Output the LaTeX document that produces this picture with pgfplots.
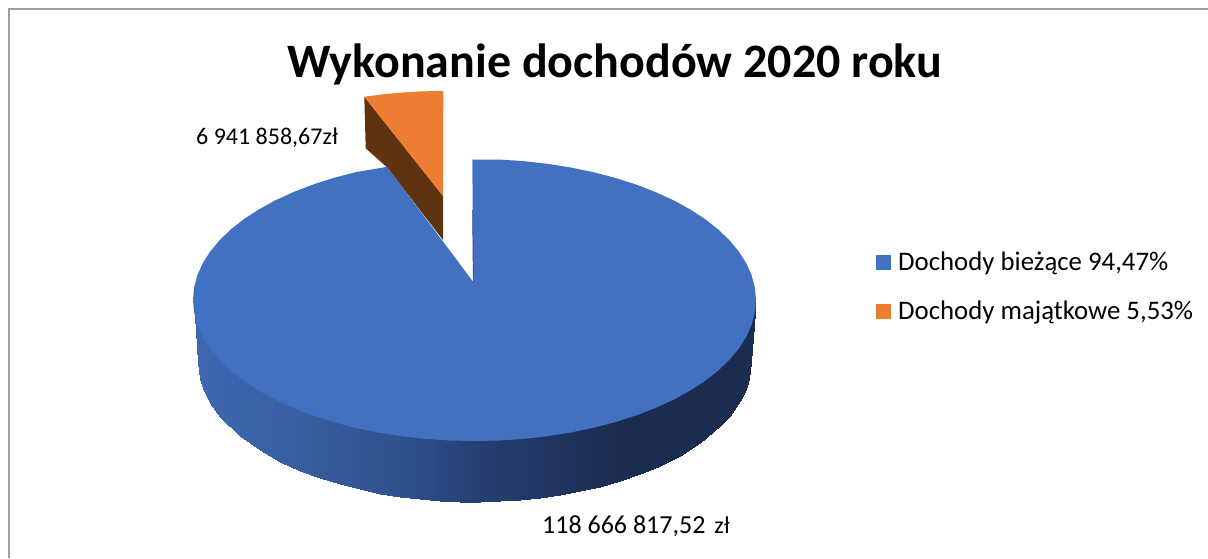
\documentclass[border=0pt]{standalone}
\usepackage{fontspec}
\setmainfont{Carlito}
\usepackage{pgfplots}
\pgfplotsset{compat=1.18}
\definecolor{pieblue}{HTML}{4371C1}
\definecolor{pieorange}{HTML}{ED7D31}
\definecolor{piebrown}{HTML}{5F3210}
\definecolor{framegray}{HTML}{A0A0A0}
\begin{document}
\begin{tikzpicture}
\useasboundingbox (0,0) rectangle (1208pt,558pt);
% axis runs in reference pixels, y downwards
\begin{axis}[scale only axis, width=1208pt, height=558pt, at={(0,0)}, anchor=south west,
    xmin=0, xmax=1208, ymin=0, ymax=558, y dir=reverse,
    hide axis,
    colormap={side}{rgb255(198)=(62,104,176) rgb255(300)=(56,94,160) rgb255(400)=(47,81,143)
      rgb255(480)=(37,63,112) rgb255(560)=(30,52,94) rgb255(620)=(26,45,80) rgb255(751)=(26,45,80)},
    legend style={at={(0.7227,0.5556)},anchor=north west,draw=none,fill=none,font=\fontsize{26.8}{31}\selectfont,row sep=25pt},
    legend cell align=left,
    legend image code/.code={\fill[#1] (0pt,-7.5pt) rectangle (15pt,7.5pt); \path (20pt,0pt);},
  ]

% frame, open to the right and the bottom
\addplot[forget plot, framegray, line width=1.3pt] coordinates {(9,558) (9,9) (1208,9)};

% side of the big slice, one column per pair (top, bottom)
\addplot[forget plot, surf, shader=interp, mesh/cols=2, point meta=x, point meta min=198, point meta max=751] table {
x y
193.5 300
198 362
200 300
200 378.8
204 300
204 391.0
210 300
210 402.8
220 300
220 416.7
240 300
240 436.2
260 300
260 450.3
280 300
280 461.5
300 300
300 470.6
320 300
320 478.1
340 300
340 484.3
360 300
360 489.4
380 300
380 493.6
400 300
400 496.8
420 300
420 499.3
440 300
440 500.9
460 300
460 501.8
480 300
480 502.0
500 300
500 501.4
520 300
520 500.1
540 300
540 498.0
560 300
560 495.1
580 300
580 491.4
600 300
600 486.7
620 300
620 481.0
640 300
640 474.2
660 300
660 465.8
680 300
680 455.7
700 300
700 443.0
720 300
720 426.4
730 300
730 415.5
740 300
740 401.1
746 300
746 388.5
749 300
749 378.8
755.5 300
751 362
};

% side of the pulled-out slice
\addplot[forget plot, fill=piebrown, draw=none] coordinates {
  (364.3,96.7) (365.7,148.3) (387,167.3) (443,240) (443,196)} -- cycle;

% top of the big slice
\addplot[fill=pieblue, draw=none] coordinates {
  (472.3,159.5) (499.0,159.5) (523.4,161.1) (547.4,163.8) (570.8,167.5) (593.5,172.2)
  (615.3,177.9) (636.0,184.5) (655.4,192.0) (673.6,200.3) (690.1,209.4) (705.1,219.1)
  (718.3,229.5) (729.6,240.4) (739.0,251.8) (746.4,263.5) (751.7,275.5) (754.9,287.7)
  (756.0,300) (754.9,312.3) (751.7,324.5) (746.4,336.5) (739.0,348.2) (729.6,359.6)
  (718.3,370.5) (705.1,380.9) (690.1,390.6) (673.6,399.7) (655.4,408.0) (636.0,415.5)
  (615.3,422.1) (593.5,427.8) (570.8,432.5) (547.4,436.2) (523.4,438.9) (499.0,440.5)
  (474.5,441) (450.0,440.5) (425.6,438.9) (401.6,436.2) (378.2,432.5) (355.5,427.8)
  (333.7,422.1) (313.0,415.5) (293.6,408.0) (275.4,399.7) (258.9,390.6) (243.9,380.9)
  (230.7,370.5) (219.4,359.6) (210.0,348.2) (202.6,336.5) (197.3,324.5) (194.1,312.3)
  (193.0,300) (194.1,287.7) (197.3,275.5) (202.6,263.5) (210.0,251.8) (219.4,240.4)
  (230.7,229.5) (243.9,219.1) (258.9,209.4) (275.4,200.3) (293.6,192.0) (313.0,184.5)
  (333.7,177.9) (355.5,172.2) (387,166.8) (473.3,282)} -- cycle;

% top of the pulled-out slice
\addplot[fill=pieorange, draw=none] coordinates {
  (364.3,96.7) (384,94.2) (404,92.4) (424,91.3) (443.3,91) (443,196)} -- cycle;

% thin dark edge inside the gap
\addplot[forget plot, draw=pieblue!60!black, line width=0.7pt] coordinates {(472.6,210) (473.3,282)};

\legend{{Dochody bieżące 94,47\%}, {Dochody majątkowe 5,53\%}}

\node[anchor=base, font=\fontsize{48}{54}\bfseries\selectfont] at (axis cs:614.5,77) {Wykonanie dochodów 2020 roku};
\node[anchor=base west, inner sep=0pt, font=\fontsize{24}{28}\selectfont] at (axis cs:196,144) {6 941 858,67zł};
\node[anchor=base west, inner sep=0pt, font=\fontsize{26}{30}\selectfont] at (axis cs:542,533) {118 666 817,52\hspace{9pt}{\fontsize{24}{28}\selectfont zł}};
\end{axis}
\end{tikzpicture}
\end{document}
